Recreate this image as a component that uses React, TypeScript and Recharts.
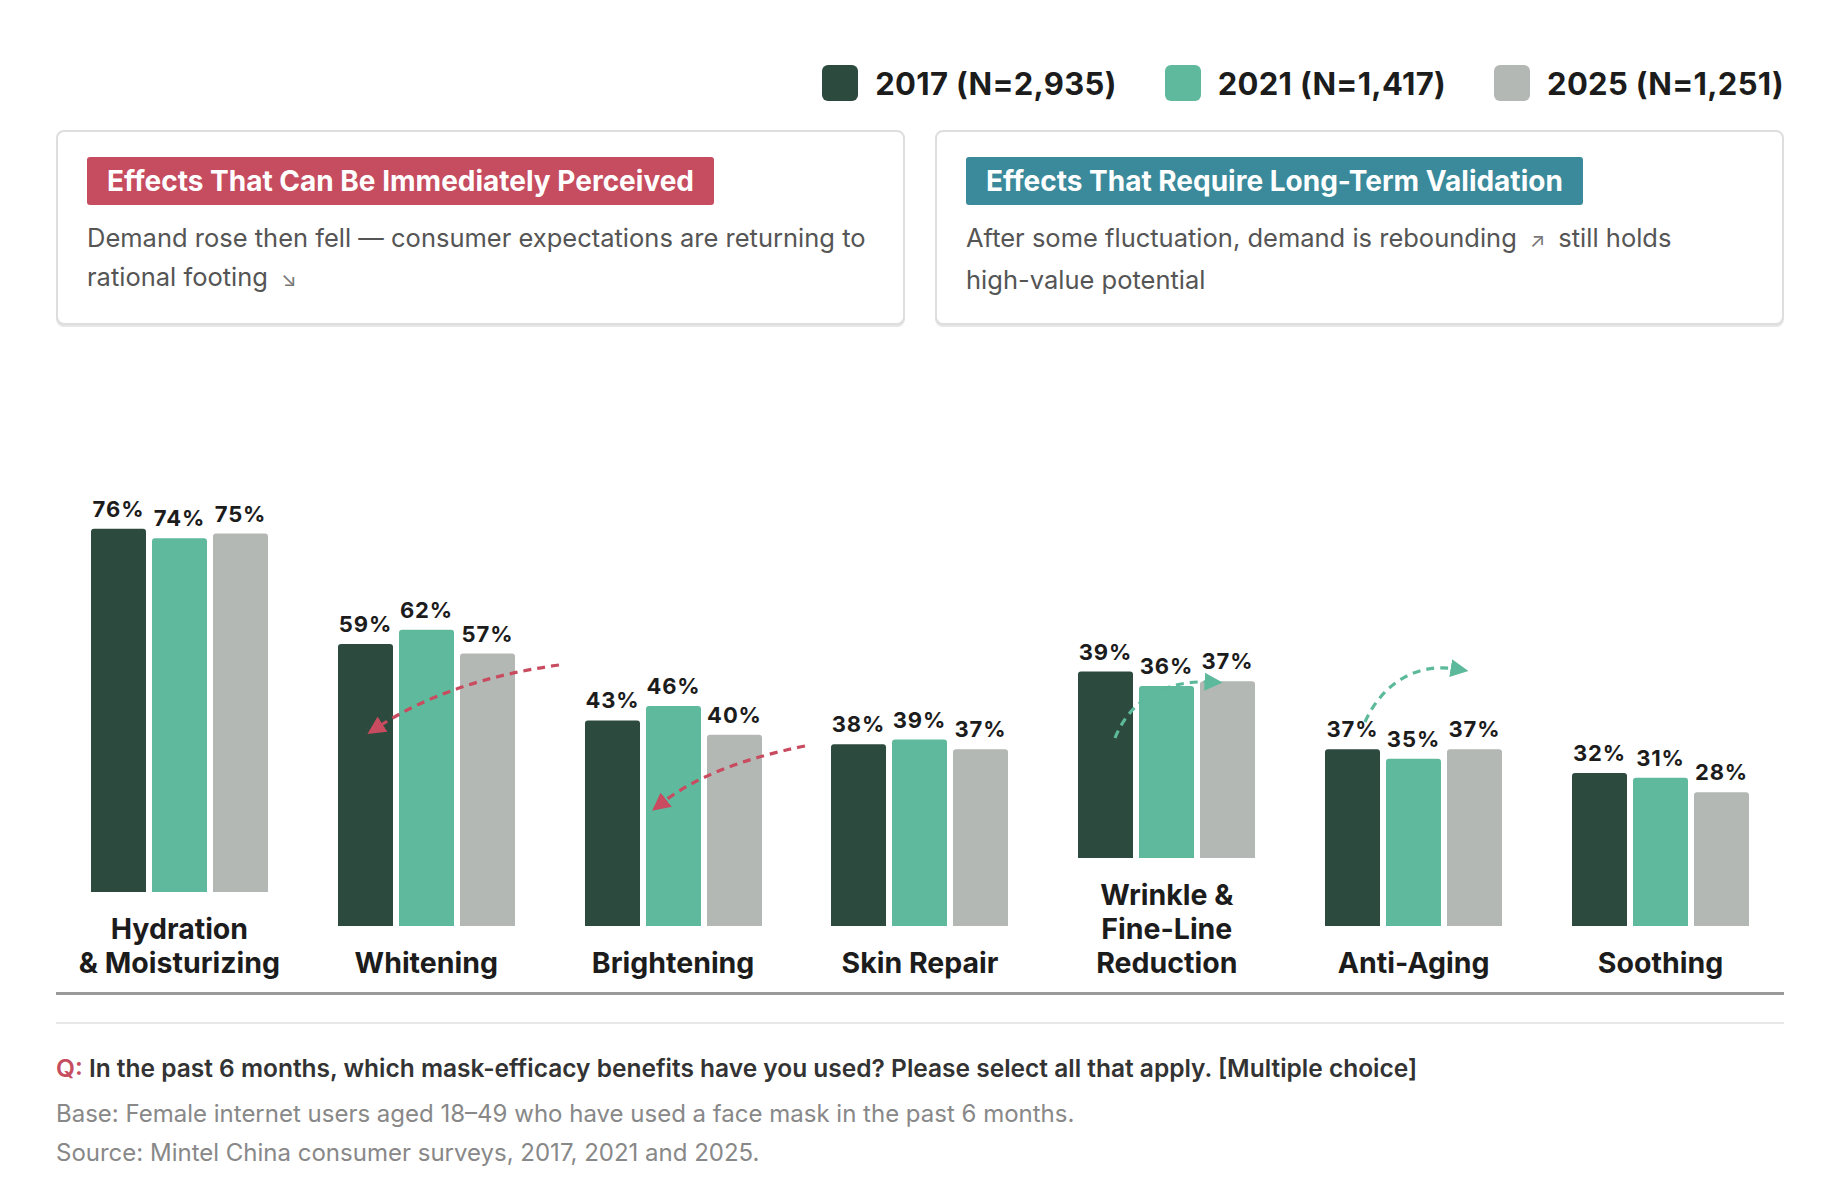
import React from "react";
import { Bar, BarChart, LabelList, XAxis, YAxis } from "recharts";

const categories = [
  ["Hydration", "& Moisturizing"],
  ["Whitening"],
  ["Brightening"],
  ["Skin Repair"],
  ["Wrinkle &", "Fine-Line", "Reduction"],
  ["Anti-Aging"],
  ["Soothing"],
];
const values2017 = [76, 59, 43, 38, 39, 37, 32];
const values2021 = [74, 62, 46, 39, 36, 35, 31];
const values2025 = [75, 57, 40, 37, 37, 37, 28];

const seriesNames = ["2017 (N=2,935)", "2021 (N=1,417)", "2025 (N=1,251)"];
const COLORS = ["#2D4A3F", "#5FB99D", "#B3B8B4"];

const FONT = "Inter, 'Noto Sans', sans-serif";

const pct = (v: number) => `${v}%`;

const CategoryChart = ({ index }: { index: number }) => {
  const data = [
    {
      name: categories[index].join(" "),
      y2017: values2017[index],
      y2021: values2021[index],
      y2025: values2025[index],
    },
  ];
  const keys = ["y2017", "y2021", "y2025"];
  return (
    <BarChart
      width={247}
      height={478}
      data={data}
      margin={{ top: 0, right: 0, bottom: 0, left: 0 }}
      barSize={55}
      barGap={6}
      style={{ overflow: "visible" }}
    >
      <XAxis dataKey="name" hide />
      <YAxis domain={[0, 100]} hide />
      {keys.map((k, i) => (
        <Bar key={k} dataKey={k} fill={COLORS[i]} radius={[3, 3, 0, 0]} isAnimationActive={false}>
          <LabelList
            dataKey={k}
            position="top"
            offset={12}
            formatter={pct}
            style={{ fontFamily: FONT, fontSize: 22, fontWeight: 700, fill: "#1c1c1c", letterSpacing: 0.9 }}
          />
        </Bar>
      ))}
    </BarChart>
  );
};

const Arrows = () => (
  <svg
    width={1840}
    height={1200}
    style={{ position: "absolute", left: 0, top: 0, pointerEvents: "none" }}
  >
    <defs>
      <marker id="headRed" viewBox="0 0 10 10" refX="3" refY="5" markerWidth="18" markerHeight="18" markerUnits="userSpaceOnUse" orient="auto">
        <path d="M0,0 L10,5 L0,10 z" fill="#C84B5F" />
      </marker>
      <marker id="headGreen" viewBox="0 0 10 10" refX="3" refY="5" markerWidth="18" markerHeight="18" markerUnits="userSpaceOnUse" orient="auto">
        <path d="M0,0 L10,5 L0,10 z" fill="#5DB99B" />
      </marker>
    </defs>
    <g fill="none" strokeWidth={3.2} strokeDasharray="8 6">
      <path d="M559 665 Q450 680 378 727" stroke="#C84B5F" markerEnd="url(#headRed)" />
      <path d="M805 746 Q710 765 662 803" stroke="#C84B5F" markerEnd="url(#headRed)" />
      <path d="M1115 738 C1130 700 1165 680 1210 682" stroke="#5DB99B" markerEnd="url(#headGreen)" />
      <path d="M1365 722 C1380 688 1412 662 1456 669" stroke="#5DB99B" markerEnd="url(#headGreen)" />
    </g>
  </svg>
);

const InfoBox = ({
  left,
  title,
  color,
  lines,
}: {
  left: number;
  title: string;
  color: string;
  lines: React.ReactNode[];
}) => (
  <div
    style={{
      position: "absolute",
      left,
      top: 130,
      width: 849,
      height: 195,
      boxSizing: "border-box",
      border: "2px solid #dedede",
      borderRadius: 8,
      padding: "25px 29px",
      boxShadow: "0 2px 0 #e6e6e6",
      background: "#fff",
    }}
  >
    <div
      style={{
        display: "inline-block",
        background: color,
        color: "#fff",
        fontWeight: 700,
        fontSize: 28,
        height: 48,
        lineHeight: "48px",
        padding: "0 20px",
        borderRadius: 3,
      }}
    >
      {title}
    </div>
    <div style={{ marginTop: 13, fontSize: 25.5, lineHeight: "39px", color: "#555" }}>
      {lines.map((l, i) => (
        <div key={i} style={{ whiteSpace: "nowrap" }}>
          {l}
        </div>
      ))}
    </div>
  </div>
);

const arrowGlyph = (g: string) => (
  <span style={{ color: "#777", fontSize: 20, marginLeft: 13, marginRight: 13 }}>{g}</span>
);

export default function App() {
  return (
    <div
      style={{
        position: "absolute",
        left: 0,
        top: 0,
        width: 1840,
        height: 1200,
        background: "#fff",
        fontFamily: FONT,
        color: "#1c1c1c",
        overflow: "hidden",
      }}
    >
      {/* legend */}
      <div
        style={{
          position: "absolute",
          right: 56,
          top: 65,
          height: 36,
          display: "flex",
          alignItems: "center",
          gap: 48,
        }}
      >
        {seriesNames.map((n, i) => (
          <div key={n} style={{ display: "flex", alignItems: "center" }}>
            <div style={{ width: 36, height: 36, borderRadius: 6, background: COLORS[i], marginRight: 17 }} />
            <span style={{ fontSize: 31, fontWeight: 700, letterSpacing: 0.3 }}>{n}</span>
          </div>
        ))}
      </div>

      <InfoBox
        left={56}
        title="Effects That Can Be Immediately Perceived"
        color="#C64C5F"
        lines={[
          "Demand rose then fell — consumer expectations are returning to",
          <>rational footing{arrowGlyph("↘")}</>,
        ]}
      />
      <InfoBox
        left={935}
        title="Effects That Require Long-Term Validation"
        color="#3A8A9B"
        lines={[<>After some fluctuation, demand is rebounding{arrowGlyph("↗")}still holds</>, "high-value potential"]}
      />

      {/* bar columns */}
      <div
        style={{
          position: "absolute",
          left: 56,
          top: 0,
          width: 1728,
          height: 980,
          display: "flex",
          alignItems: "flex-end",
        }}
      >
        {categories.map((lines, i) => (
          <div key={i} style={{ width: 1728 / 7, display: "flex", flexDirection: "column", alignItems: "center" }}>
            <CategoryChart index={i} />
            <div
              style={{
                marginTop: 20,
                fontSize: 28.5,
                fontWeight: 700,
                lineHeight: "34px",
                textAlign: "center",
                color: "#1c1c1c",
                whiteSpace: "nowrap",
              }}
            >
              {lines.map((l) => (
                <div key={l}>{l}</div>
              ))}
            </div>
          </div>
        ))}
      </div>

      <Arrows />

      <div style={{ position: "absolute", left: 56, top: 992, width: 1728, height: 3, background: "#9a9a9a" }} />
      <div style={{ position: "absolute", left: 56, top: 1022, width: 1728, height: 2, background: "#e8e8e8" }} />

      <div style={{ position: "absolute", left: 56, top: 1052, fontSize: 24.5, fontWeight: 600, color: "#333", lineHeight: "32px", whiteSpace: "nowrap" }}>
        <span style={{ color: "#C64C5F" }}>Q:</span> In the past 6 months, which mask-efficacy benefits have you used? Please
        select all that apply. [Multiple choice]
      </div>
      <div style={{ position: "absolute", left: 56, top: 1099, fontSize: 24, color: "#888", lineHeight: "30px" }}>
        Base: Female internet users aged 18–49 who have used a face mask in the past 6 months.
      </div>
      <div style={{ position: "absolute", left: 56, top: 1138, fontSize: 24, color: "#888", lineHeight: "30px" }}>
        Source: Mintel China consumer surveys, 2017, 2021 and 2025.
      </div>
    </div>
  );
}
